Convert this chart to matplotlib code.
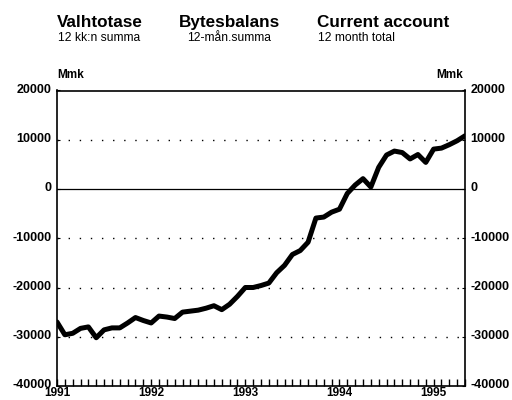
import matplotlib
matplotlib.use("Agg")
import matplotlib.pyplot as plt
import matplotlib.transforms as mtransforms
import numpy as np

plt.rcParams['font.family'] = ['Liberation Sans', 'DejaVu Sans']

# monthly current account, 12 month total, Mmk (Jan 1991 - May 1995)
values = [-27000, -29600, -29300, -28300, -28000, -30200, -28600, -28200,
          -28200, -27200, -26100, -26700, -27200, -25800, -26000, -26300,
          -25000, -24800, -24600, -24200, -23700, -24500, -23400, -21800,
          -20000, -20000, -19600, -19100, -17000, -15500, -13300, -12500,
          -10800, -5900, -5700, -4700, -4100, -900, 800, 2100,
          400, 4400, 6900, 7700, 7400, 6100, 7000, 5400,
          8100, 8300, 9000, 9800, 10800]
years = ['1991', '1992', '1993', '1994', '1995']
yticks = [20000, 10000, 0, -10000, -20000, -30000, -40000]
grid_lines = [10000, -10000, -20000, -30000]

titles = ['Valhtotase', 'Bytesbalans', 'Current account']
subtitles = ['12 kk:n summa', '12-mån.summa', '12 month total']

months = np.arange(len(values))

fig = plt.figure(figsize=(5.12, 4.0), dpi=100)
ax = fig.add_axes([57/512, 1-386/400, (465-57)/512, (386-90.5)/400])

for g in grid_lines:
    ax.axhline(g, color='black', lw=1.0, ls=(0, (1, 7)), zorder=1)
ax.axhline(0, color='black', lw=0.9, zorder=1)

ax.plot(months, values, color='black', lw=3.6, solid_joinstyle='round',
        solid_capstyle='round', zorder=3)

ax.set_xlim(0, len(values) - 1)
ax.set_ylim(-40000, 20000)

# year labels on major ticks, every month a minor tick
ax.set_xticks(np.arange(len(years)) * 12)
ax.set_xticklabels(years, fontweight='bold', fontsize=8.5)
ax.set_xticks(months, minor=True)
ax.tick_params(axis='x', which='both', direction='in', length=5, width=1.0, pad=1)

ax.set_yticks(yticks)
ax.set_yticklabels([str(v) for v in yticks], fontweight='bold', fontsize=9)
ax.tick_params(axis='y', direction='in', length=2, width=0.8, pad=4,
               left=True, right=True, labelleft=True, labelright=True)

# y labels sit a little above their ticks in the original
shift = mtransforms.ScaledTranslation(0, 2/100, fig.dpi_scale_trans)
for t in ax.yaxis.get_major_ticks():
    t.label1.set_transform(t.label1.get_transform() + shift)
    t.label2.set_transform(t.label2.get_transform() + shift)

for s in ax.spines.values():
    s.set_linewidth(1.2)

fig.text(57/512, 1-78/400, 'Mmk', fontsize=8.5, fontweight='bold', ha='left', va='baseline')
fig.text(463/512, 1-78/400, 'Mmk', fontsize=8.5, fontweight='bold', ha='right', va='baseline')

title_x = [57, 179, 317]
sub_x = [58, 187, 318]
for t, s, tx, sx in zip(titles, subtitles, title_x, sub_x):
    fig.text(tx/512, 1-27/400, t, fontsize=12.3, fontweight='bold', ha='left', va='baseline')
    fig.text(sx/512, 1-41/400, s, fontsize=8.7, ha='left', va='baseline')

fig.savefig('out.png', dpi=100)
